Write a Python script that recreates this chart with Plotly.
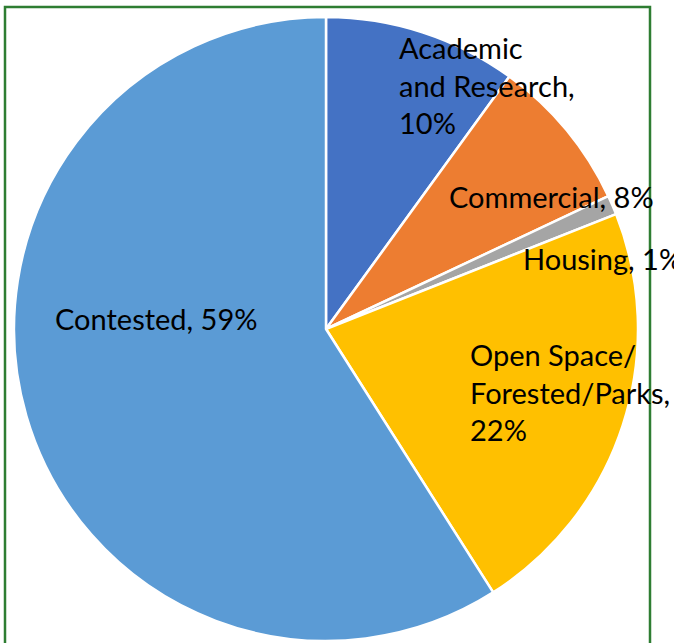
import plotly.graph_objects as go

labels = ["Academic and Research", "Commercial", "Housing",
          "Open Space/Forested/Parks", "Contested"]
values = [10, 8, 1, 22, 59]
colors = ["#4472C4", "#ED7D31", "#A5A5A5", "#FFC000", "#5B9BD5"]

# label text as drawn on the chart (line breaks kept)
label_text = ["Academic<br>and Research,<br>10%", "Commercial, 8%", "Housing, 1%",
              "Open Space/<br>Forested/Parks,<br>22%", "Contested, 59%"]
# label anchor points (left edge, vertical middle) in pixels
label_px = [(397, 85), (447, 197), (521, 258), (468, 392), (53, 318)]

W, H = 674, 643

fig = go.Figure()

fig.add_trace(go.Pie(
    labels=labels,
    values=values,
    sort=False,
    direction="clockwise",
    rotation=0,
    textinfo="none",
    hoverinfo="label+percent",
    marker=dict(colors=colors, line=dict(color="white", width=2.5)),
    domain=dict(x=[(326 - 312) / W, (326 + 312) / W],
                y=[1 - (329 + 312) / H, 1 - (329 - 312) / H]),
    showlegend=False
))

for txt, (px, py) in zip(label_text, label_px):
    fig.add_annotation(
        x=px / W, y=1 - py / H, xref="paper", yref="paper",
        text=txt, showarrow=False, xanchor="left", yanchor="middle",
        align="left", font=dict(family="Lato", size=29, color="black")
    )

# green frame around the chart
fig.add_shape(type="rect", xref="paper", yref="paper",
              x0=5 / W, x1=650 / W, y0=-0.05, y1=1 - 7 / H,
              line=dict(color="#2E7D32", width=2.5), layer="above")

fig.update_layout(
    width=W, height=H,
    margin=dict(l=0, r=0, t=0, b=0),
    paper_bgcolor="white",
    plot_bgcolor="white"
)

fig.write_html("out.html", config={"displayModeBar": False},
               post_script="document.body.style.margin='0';")
